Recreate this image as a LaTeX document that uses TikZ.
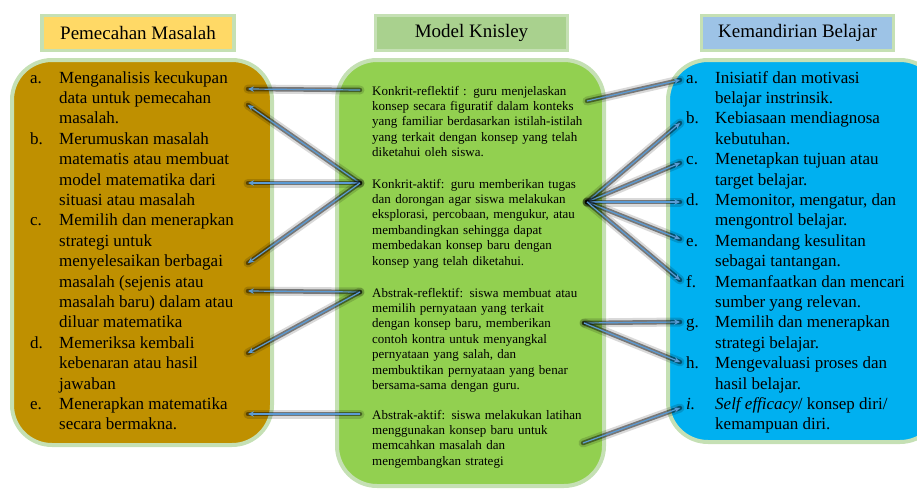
\documentclass[tikz,border=0pt]{standalone}
\usepackage{fontspec}
\setmainfont{Liberation Serif}
\usetikzlibrary{arrows.meta}

\definecolor{gold}{HTML}{BF9000}
\definecolor{leaf}{HTML}{92D050}
\definecolor{sky}{HTML}{00B0F0}
\definecolor{peach}{HTML}{FFD966}
\definecolor{sage}{HTML}{A9D18E}
\definecolor{powder}{HTML}{9DC3E6}
\definecolor{rim}{HTML}{C5E0B4}
\definecolor{linkblue}{HTML}{5B9BD5}

\begin{document}
\begin{tikzpicture}[x=1pt,y=-1pt,
  head/.style={draw=rim,line width=3.5pt,minimum width=192pt,minimum height=35pt,inner sep=0pt,font=\fontsize{19}{22}\selectfont},
  panel/.style={draw=rim,line width=4pt,rounded corners=40pt,inner sep=0pt},
  list/.style={anchor=base west,inner sep=0pt,font=\fontsize{17}{20.4}\selectfont},
  para/.style={anchor=base west,inner sep=0pt,text width=235pt,align=left,font=\fontsize{13}{15.4}\selectfont},
  link/.style={draw=linkblue,line width=1.2pt,-{Stealth[length=6pt,width=5.5pt]},
    preaction={draw=black,opacity=.15,line width=9pt,line cap=round,arrows=-},
    preaction={draw=black,opacity=.45,line width=4.5pt,line cap=round,arrows=-}}]
  \useasboundingbox (0,0) rectangle (917,490);
  \clip (0,0) rectangle (917,490);

  \node[head,fill=peach] (pmtitle) at (138,33) {Pemecahan Masalah};
  \node[head,fill=sage] (mktitle) at (471.5,33) {Model Knisley};
  \node[head,fill=powder] (kbtitle) at (797.5,33) {Kemandirian Belajar};

  \node[panel,fill=gold,minimum width=260pt,minimum height=385pt] (pmbox) at (142,252.5) {};
  \node[panel,fill=leaf,minimum width=267pt,minimum height=426pt] (mkbox) at (470.5,273) {};
  \node[panel,fill=sky,minimum width=272pt,minimum height=382pt] (kbbox) at (804,251) {};

  \node[list] (pmlist) at (30,83) {\begin{tabular}[t]{@{}p{29pt}@{}l@{}}
    a. & Menganalisis kecukupan\\
       & data untuk pemecahan\\
       & masalah.\\
    b. & Merumuskan masalah\\
       & matematis atau membuat\\
       & model matematika dari\\
       & situasi atau masalah\\
    c. & Memilih dan menerapkan\\
       & strategi untuk\\
       & menyelesaikan berbagai\\
       & masalah (sejenis atau\\
       & masalah baru) dalam atau\\
       & diluar matematika\\
    d. & Memeriksa kembali\\
       & kebenaran atau hasil\\
       & jawaban\\
    e. & Menerapkan matematika\\
       & secara bermakna.
  \end{tabular}};

  \node[para] (kr) at (372,95) {Konkrit-reflektif : guru menjelaskan\\konsep secara figuratif dalam konteks\\yang familiar berdasarkan istilah-istilah\\yang terkait dengan konsep yang telah\\diketahui oleh siswa.};
  \node[para] (ka) at (372,188) {Konkrit-aktif: guru memberikan tugas\\dan dorongan agar siswa melakukan\\eksplorasi, percobaan, mengukur, atau\\membandingkan sehingga dapat\\membedakan konsep baru dengan\\konsep yang telah diketahui.};
  \node[para] (ar) at (372,297) {Abstrak-reflektif: siswa membuat atau\\memilih pernyataan yang terkait\\dengan konsep baru, memberikan\\contoh kontra untuk menyangkal\\pernyataan yang salah, dan\\membuktikan pernyataan yang benar\\bersama-sama dengan guru.};
  \node[para] (aa) at (372,419) {Abstrak-aktif: siswa melakukan latihan\\menggunakan konsep baru untuk\\memcahkan masalah dan\\mengembangkan strategi};

  \node[list] (kblist) at (686,83) {\begin{tabular}[t]{@{}p{29pt}@{}l@{}}
    a. & Inisiatif dan motivasi\\
       & belajar instrinsik.\\
    b. & Kebiasaan mendiagnosa\\
       & kebutuhan.\\
    c. & Menetapkan tujuan atau\\
       & target belajar.\\
    d. & Memonitor, mengatur, dan\\
       & mengontrol belajar.\\
    e. & Memandang kesulitan\\
       & sebagai tantangan.\\
    f. & Memanfaatkan dan mencari\\
       & sumber yang relevan.\\
    g. & Memilih dan menerapkan\\
       & strategi belajar.\\
    h. & Mengevaluasi proses dan\\
       & hasil belajar.\\
    \textit{i.} & \textit{Self efficacy}/ konsep diri/\\
       & kemampuan diri.
  \end{tabular}};

  \coordinate (krL) at (360,90);
  \coordinate (kaL) at (360,183);
  \coordinate (arL) at (360,292);
  \coordinate (aaL) at (360,414);
  \coordinate (krR) at (587,101);
  \coordinate (kaR) at (587,202);
  \coordinate (arR) at (584,323);
  \coordinate (aaR) at (583,443);

  \coordinate (pma1) at (248,89);
  \coordinate (pma2) at (248,105);
  \coordinate (pmb) at (248,183);
  \coordinate (pmc1) at (248,263);
  \coordinate (pmc2) at (248,291);
  \coordinate (pmd) at (248,353);
  \coordinate (pme) at (248,414);

  \coordinate (kba) at (680,80);
  \coordinate (kbb) at (680,123);
  \coordinate (kbc) at (680,163);
  \coordinate (kbd) at (680,202);
  \coordinate (kbe) at (680,239);
  \coordinate (kbf) at (680,280);
  \coordinate (kbg) at (680,322);
  \coordinate (kbh) at (680,362);
  \coordinate (kbi) at (680,408);

  \draw[link] (krL) -- (pma1);
  \draw[link] (kaL) -- (pma2);
  \draw[link] (kaL) -- (pmb);
  \draw[link] (kaL) -- (pmc1);
  \draw[link] (arL) -- (pmc2);
  \draw[link] (arL) -- (pmd);
  \draw[link] (aaL) -- (pme);

  \draw[link] (krR) -- (kba);
  \draw[link] (kaR) -- (kbb);
  \draw[link] (kaR) -- (kbc);
  \draw[link] (kaR) -- (kbd);
  \draw[link] (kaR) -- (kbe);
  \draw[link] (kaR) -- (kbf);
  \draw[link] (arR) -- (kbg);
  \draw[link] (arR) -- (kbh);
  \draw[link] (aaR) -- (kbi);
\end{tikzpicture}
\end{document}
